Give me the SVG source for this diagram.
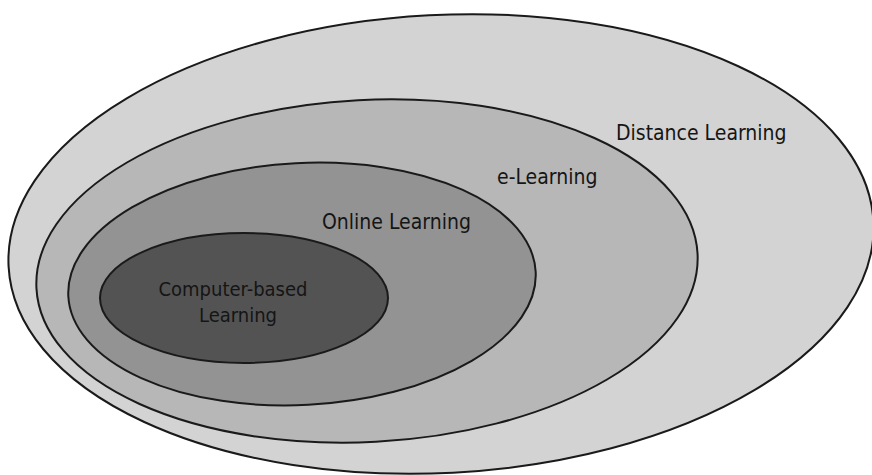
<svg xmlns="http://www.w3.org/2000/svg" width="872" height="475" viewBox="0 0 872 475">
<style>
.e{stroke:#1a1a1a;stroke-width:2}
.t{font-family:"DejaVu Sans Condensed","DejaVu Sans",Verdana,sans-serif;font-stretch:condensed;font-size:21px;fill:#151515}
.s{font-size:20px}
</style>
<rect width="872" height="475" fill="#ffffff"/>
<g id="distance-learning">
<ellipse class="e" cx="441" cy="244" rx="433" ry="229" fill="#d3d3d3" transform="rotate(-3 441 244)"/>
<text class="t" x="616" y="140">Distance Learning</text>
</g>
<g id="e-learning">
<ellipse class="e" cx="367" cy="271" rx="331" ry="171" fill="#b7b7b7" transform="rotate(-3 367 271)"/>
<text class="t" x="497" y="184">e-Learning</text>
</g>
<g id="online-learning">
<ellipse class="e" cx="302" cy="284" rx="234" ry="121" fill="#939393" transform="rotate(-3 302 284)"/>
<text class="t" x="322" y="229">Online Learning</text>
</g>
<g id="computer-based-learning">
<ellipse class="e" cx="244" cy="298" rx="144" ry="65" fill="#535353"/>
<text class="t s" x="233" y="296" text-anchor="middle">Computer-based</text>
<text class="t s" x="238" y="322" text-anchor="middle">Learning</text>
</g>
<g id="connectors"/>
</svg>
